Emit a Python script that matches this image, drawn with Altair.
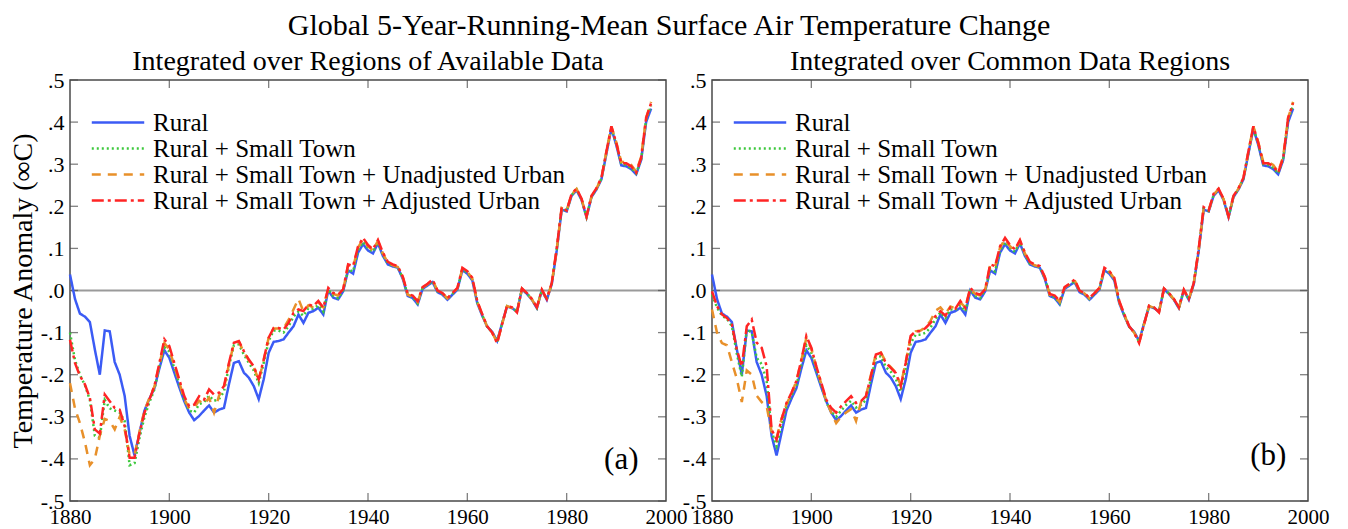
import altair as alt
import pandas as pd

FONT = "Liberation Serif"

years = list(range(1880, 1998))
series_names = [
    "Rural",
    "Rural + Small Town",
    "Rural + Small Town + Unadjusted Urban",
    "Rural + Small Town + Adjusted Urban",
]
series_colors = ["#3b5bf5", "#3cc83c", "#e8902a", "#ff2424"]
series_dashes = [[1, 0], [2, 3], [9, 7], [12, 4, 3, 4]]

# Rural (identical in both panels), 1880-1997
rural = [
    0.038, -0.020, -0.055, -0.062, -0.075, -0.140, -0.200, -0.095, -0.097, -0.170,
    -0.200, -0.250, -0.345, -0.392, -0.338, -0.285, -0.257, -0.232, -0.185, -0.142,
    -0.160, -0.195, -0.230, -0.263, -0.290, -0.308, -0.298, -0.285, -0.273, -0.290,
    -0.283, -0.279, -0.223, -0.172, -0.168, -0.195, -0.207, -0.227, -0.258, -0.211,
    -0.148, -0.122, -0.120, -0.116, -0.100, -0.085, -0.057, -0.077, -0.053, -0.049,
    -0.041, -0.057, 0.000, -0.017, -0.021, -0.002, 0.048, 0.040, 0.090, 0.110,
    0.095, 0.088, 0.112, 0.082, 0.062, 0.057, 0.054, 0.028, -0.013, -0.018,
    -0.033, 0.004, 0.012, 0.020, -0.004, -0.010, -0.022, -0.010, 0.002, 0.048,
    0.040, 0.024, -0.030, -0.060, -0.086, -0.098, -0.120, -0.078, -0.038, -0.042,
    -0.050, 0.003, -0.008, -0.022, -0.042, 0.000, -0.022, 0.015, 0.095, 0.192,
    0.188, 0.225, 0.238, 0.215, 0.174, 0.222, 0.240, 0.264, 0.325, 0.385,
    0.345, 0.297, 0.295, 0.288, 0.276, 0.310, 0.400, 0.432,
]

# 1880-1929, panel (a)
small_a_early = [
    -0.100, -0.165, -0.200, -0.225, -0.260, -0.345, -0.350, -0.260, -0.280, -0.285,
    -0.290, -0.310, -0.415, -0.410, -0.350, -0.300, -0.265, -0.235, -0.180, -0.135,
    -0.145, -0.185, -0.222, -0.260, -0.285, -0.290, -0.270, -0.265, -0.250, -0.262,
    -0.258, -0.240, -0.180, -0.130, -0.128, -0.152, -0.172, -0.190, -0.220, -0.172,
    -0.120, -0.095, -0.095, -0.100, -0.085, -0.062, -0.050, -0.060, -0.042, -0.043,
]
unadj_a_early = [
    -0.220, -0.280, -0.315, -0.360, -0.415, -0.400, -0.345, -0.305, -0.310, -0.330,
    -0.300, -0.330, -0.390, -0.390, -0.335, -0.285, -0.255, -0.228, -0.175, -0.125,
    -0.140, -0.178, -0.218, -0.258, -0.280, -0.278, -0.262, -0.270, -0.255, -0.290,
    -0.250, -0.232, -0.175, -0.126, -0.122, -0.146, -0.166, -0.182, -0.213, -0.166,
    -0.112, -0.090, -0.090, -0.090, -0.070, -0.045, -0.020, -0.050, -0.035, -0.040,
]
adj_a_early = [
    -0.117, -0.172, -0.203, -0.223, -0.255, -0.330, -0.340, -0.247, -0.263, -0.279,
    -0.283, -0.322, -0.397, -0.397, -0.338, -0.290, -0.259, -0.227, -0.172, -0.116,
    -0.132, -0.172, -0.211, -0.251, -0.275, -0.271, -0.251, -0.259, -0.235, -0.247,
    -0.243, -0.227, -0.172, -0.124, -0.120, -0.144, -0.164, -0.180, -0.211, -0.164,
    -0.112, -0.089, -0.089, -0.093, -0.077, -0.053, -0.045, -0.049, -0.033, -0.037,
]

# 1880-1929, panel (b)
small_b_early = [
    -0.010, -0.040, -0.060, -0.067, -0.085, -0.150, -0.205, -0.092, -0.100, -0.160,
    -0.175, -0.215, -0.335, -0.370, -0.320, -0.275, -0.250, -0.225, -0.175, -0.130,
    -0.148, -0.190, -0.226, -0.265, -0.288, -0.300, -0.285, -0.272, -0.262, -0.278,
    -0.272, -0.260, -0.210, -0.160, -0.156, -0.182, -0.193, -0.210, -0.240, -0.185,
    -0.125, -0.105, -0.105, -0.100, -0.088, -0.068, -0.052, -0.065, -0.045, -0.046,
]
unadj_b_early = [
    -0.045, -0.100, -0.125, -0.130, -0.170, -0.210, -0.265, -0.190, -0.200, -0.250,
    -0.265, -0.275, -0.335, -0.350, -0.305, -0.270, -0.245, -0.215, -0.165, -0.112,
    -0.138, -0.182, -0.222, -0.262, -0.290, -0.315, -0.300, -0.290, -0.282, -0.310,
    -0.265, -0.250, -0.200, -0.150, -0.147, -0.170, -0.182, -0.195, -0.225, -0.170,
    -0.110, -0.097, -0.095, -0.087, -0.072, -0.048, -0.040, -0.055, -0.038, -0.042,
]
adj_b_early = [
    -0.002, -0.037, -0.057, -0.065, -0.081, -0.140, -0.180, -0.085, -0.069, -0.124,
    -0.136, -0.180, -0.330, -0.354, -0.306, -0.267, -0.243, -0.215, -0.164, -0.108,
    -0.136, -0.180, -0.219, -0.259, -0.279, -0.290, -0.275, -0.263, -0.251, -0.267,
    -0.263, -0.251, -0.203, -0.152, -0.148, -0.172, -0.184, -0.196, -0.227, -0.172,
    -0.108, -0.097, -0.097, -0.089, -0.077, -0.061, -0.049, -0.060, -0.040, -0.043,
]

# 1930-1997, both panels
small_late = [
    -0.035, -0.050, 0.002, -0.013, -0.018, 0.000, 0.050, 0.045, 0.095, 0.115,
    0.100, 0.092, 0.115, 0.085, 0.064, 0.059, 0.055, 0.030, -0.011, -0.016,
    -0.030, 0.006, 0.014, 0.022, -0.002, -0.008, -0.020, -0.008, 0.004, 0.050,
    0.043, 0.026, -0.028, -0.058, -0.086, -0.099, -0.122, -0.079, -0.037, -0.041,
    -0.050, 0.004, -0.007, -0.021, -0.041, 0.001, -0.021, 0.016, 0.097, 0.195,
    0.189, 0.227, 0.240, 0.216, 0.175, 0.223, 0.241, 0.266, 0.327, 0.387,
    0.347, 0.300, 0.298, 0.291, 0.278, 0.312, 0.405, 0.440,
]
unadj_late = [
    -0.028, -0.040, 0.004, -0.008, -0.012, 0.002, 0.060, 0.056, 0.102, 0.122,
    0.105, 0.095, 0.118, 0.088, 0.066, 0.060, 0.056, 0.032, -0.010, -0.014,
    -0.027, 0.007, 0.015, 0.025, -0.001, -0.007, -0.019, -0.007, 0.005, 0.052,
    0.045, 0.028, -0.027, -0.057, -0.086, -0.100, -0.124, -0.080, -0.037, -0.041,
    -0.051, 0.004, -0.007, -0.021, -0.041, 0.001, -0.021, 0.017, 0.098, 0.196,
    0.190, 0.228, 0.241, 0.217, 0.176, 0.224, 0.242, 0.267, 0.330, 0.390,
    0.352, 0.305, 0.305, 0.298, 0.282, 0.318, 0.410, 0.448,
]
adj_late = [
    -0.025, -0.041, 0.006, -0.006, -0.010, 0.003, 0.062, 0.058, 0.105, 0.125,
    0.108, 0.098, 0.120, 0.090, 0.068, 0.062, 0.058, 0.033, -0.008, -0.012,
    -0.025, 0.008, 0.016, 0.026, 0.000, -0.006, -0.018, -0.006, 0.006, 0.054,
    0.046, 0.030, -0.025, -0.056, -0.085, -0.100, -0.125, -0.080, -0.036, -0.040,
    -0.052, 0.005, -0.006, -0.020, -0.040, 0.002, -0.020, 0.018, 0.100, 0.198,
    0.190, 0.230, 0.242, 0.218, 0.176, 0.225, 0.243, 0.268, 0.330, 0.390,
    0.350, 0.302, 0.302, 0.295, 0.280, 0.315, 0.410, 0.445,
]

x_ticks = [1880, 1900, 1920, 1940, 1960, 1980, 2000]
y_ticks = [-0.5, -0.4, -0.3, -0.2, -0.1, 0.0, 0.1, 0.2, 0.3, 0.4, 0.5]

main_title = "Global 5-Year-Running-Mean Surface Air Temperature Change"
sub_a = "Integrated over Regions of Available Data"
sub_b = "Integrated over Common Data Regions"
y_title = "Temperature Anomaly (\u221eC)"


def make_df(series_lists):
    rows = []
    for name, vals in zip(series_names, series_lists):
        for yr, v in zip(years, vals):
            rows.append({"year": yr, "value": v, "series": name})
    return pd.DataFrame(rows)


df_a = make_df([rural, small_a_early + small_late, unadj_a_early + unadj_late, adj_a_early + adj_late])
df_b = make_df([rural, small_b_early + small_late, unadj_b_early + unadj_late, adj_b_early + adj_late])

FRAME = "#4a4a4a"
W, H = 596, 421


def panel(df, sub, tag, tag_year, tag_value, with_title):
    xenc = alt.X(
        "year:Q",
        scale=alt.Scale(domain=[1880, 2000], nice=False, zero=False),
        axis=alt.Axis(
            values=x_ticks, format="d", labelFlush=False, ticks=False, domain=False,
            grid=False, title=None, labelFont=FONT, labelFontSize=21,
            labelColor="black", labelPadding=5, labelOverlap=False,
        ),
    )
    yenc = alt.Y(
        "value:Q",
        scale=alt.Scale(domain=[-0.5, 0.5], nice=False, zero=False),
        axis=alt.Axis(
            values=y_ticks,
            labelExpr="(datum.value < -0.001 ? '-' : '') + '.' + format(abs(datum.value) * 10, '.0f')",
            ticks=False, domain=False, grid=False,
            title=y_title if with_title else None,
            titleFont=FONT, titleFontSize=28, titleFontWeight="normal",
            titleColor="black", titlePadding=3,
            labelFont=FONT, labelFontSize=22, labelColor="black",
            labelPadding=6, labelOverlap=False, labelFlush=False,
        ),
    )

    zero = alt.Chart(pd.DataFrame({"value": [0.0]})).mark_rule(
        color="#9a9a9a", strokeWidth=2
    ).encode(y=yenc)

    leg = alt.Legend(
        title=None, orient="none", legendX=20, legendY=30,
        labelFont=FONT, labelFontSize=25, labelColor="black", labelLimit=0,
        symbolType="stroke", symbolSize=2750, symbolStrokeWidth=2.6,
        labelOffset=7, rowPadding=0, clipHeight=25,
    )
    lines = alt.Chart(df).mark_line(strokeWidth=2.5).encode(
        x=xenc,
        y=yenc,
        color=alt.Color("series:N", scale=alt.Scale(domain=series_names, range=series_colors), legend=leg),
        strokeDash=alt.StrokeDash("series:N", scale=alt.Scale(domain=series_names, range=series_dashes), legend=leg),
        detail="series:N",
    )

    yt_left = pd.DataFrame({"year": [1880] * len(y_ticks), "value": y_ticks})
    yt_right = pd.DataFrame({"year": [2000] * len(y_ticks), "value": y_ticks})
    xt_bot = pd.DataFrame({"year": x_ticks[1:-1], "value": [-0.5] * 5})
    xt_top = pd.DataFrame({"year": x_ticks[1:-1], "value": [0.5] * 5})

    tl = alt.Chart(yt_left).mark_tick(orient="horizontal", size=8, thickness=1.3, color=FRAME, xOffset=4).encode(x=xenc, y=yenc)
    tr = alt.Chart(yt_right).mark_tick(orient="horizontal", size=8, thickness=1.3, color=FRAME, xOffset=-4).encode(x=xenc, y=yenc)
    tb = alt.Chart(xt_bot).mark_tick(orient="vertical", size=8, thickness=1.3, color=FRAME, yOffset=-4).encode(x=xenc, y=yenc)
    tt = alt.Chart(xt_top).mark_tick(orient="vertical", size=8, thickness=1.3, color=FRAME, yOffset=4).encode(x=xenc, y=yenc)

    tag_df = pd.DataFrame({"year": [tag_year], "value": [tag_value], "label": [tag]})
    tag_text = alt.Chart(tag_df).mark_text(
        font=FONT, fontSize=31, color="black", align="center", baseline="middle"
    ).encode(x=xenc, y=yenc, text="label:N")

    return alt.layer(zero, tl, tr, tb, tt, lines, tag_text).properties(
        width=W, height=H,
        title=alt.Title(sub, font=FONT, fontSize=28, fontWeight="normal", color="black", anchor="middle", offset=-7),
    )


pa = panel(df_a, sub_a, "(a)", 1991, -0.402, True)
pb = panel(df_b, sub_b, "(b)", 1992, -0.392, False)

chart = alt.hconcat(pa, pb, spacing=46, bounds="flush").properties(
    title=alt.Title(main_title, font=FONT, fontSize=30, fontWeight="normal", color="black", anchor="middle", offset=6),
    padding={"left": 0, "top": 3, "right": 5, "bottom": 0},
).resolve_legend(color="independent", strokeDash="independent").configure_view(
    stroke=FRAME, strokeWidth=1.5
).configure_legend(
    labelFont=FONT, labelFontSize=25, labelColor="black", labelLimit=0
)

chart.save("out.html", embed_options={"renderer": "svg", "actions": False})
